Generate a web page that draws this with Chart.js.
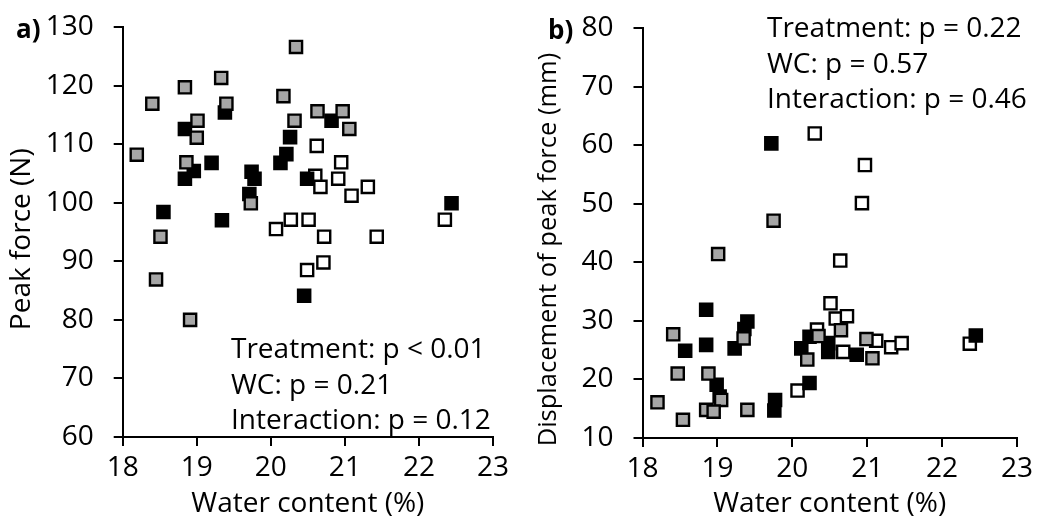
<!DOCTYPE html>
<html><head><meta charset="utf-8">
<script src="https://cdn.jsdelivr.net/npm/chart.js@4"></script>
<style>
html,body{margin:0;padding:0;background:#fff;width:1038px;height:524px;overflow:hidden}
#ca{position:absolute;left:0;top:0}
#cb{position:absolute;left:519px;top:0}
</style></head><body>
<canvas id="ca" width="519" height="524"></canvas>
<canvas id="cb" width="519" height="524"></canvas>
<script>
// ---- data ----
const xTickLabels = ['18','19','20','21','22','23'];
const yTicksA = [60,70,80,90,100,110,120,130];
const yTicksB = [10,20,30,40,50,60,70,80];

// Panel a: Peak force (N)
const grayA_x  = [18.19,18.40,18.45,18.51,18.84,18.86,18.91,19.01,19.00,19.33,19.40,19.73,20.17,20.34,20.32,20.63,20.97,21.06];
const grayA_y  = [108.2,116.9,86.9,94.2,119.7,106.9,80.0,114.0,111.1,121.3,116.9,99.9,118.2,126.6,114.0,115.6,115.6,112.6];
const blackA_x = [18.55,18.84,18.84,18.96,19.20,19.34,19.38,19.71,19.74,19.78,20.13,20.21,20.26,20.45,20.49,20.82,22.44];
const blackA_y = [98.4,112.6,104.1,105.4,106.8,97.0,115.4,101.5,105.3,104.1,106.8,108.3,111.2,84.1,104.1,114.0,99.9];
const whiteA_x = [20.07,20.27,20.51,20.49,20.62,20.60,20.67,20.71,20.72,20.91,20.95,21.09,21.31,21.43,22.35];
const whiteA_y = [95.5,97.1,97.1,88.5,109.7,104.6,102.7,89.8,94.2,104.1,106.9,101.2,102.7,94.2,97.1];

// Panel b: Displacement of peak force (mm)
const grayB_x  = [18.41,19.35,18.47,18.88,19.05,18.20,18.85,18.95,19.40,18.54,19.75,19.01,20.65,20.35,20.20,20.99,21.07];
const grayB_y  = [27.7,27.0,21.0,21.0,16.5,16.1,14.8,14.5,14.8,13.1,47.1,41.4,28.4,27.4,23.4,26.9,23.6];
const blackB_x = [18.85,18.57,18.85,19.23,19.40,19.36,18.99,19.03,19.72,19.77,19.76,20.12,20.23,20.48,20.48,20.86,22.45,20.23];
const blackB_y = [31.9,24.9,25.9,25.3,29.9,28.6,19.1,17.1,60.3,16.5,14.7,25.3,27.3,26.2,24.7,24.2,27.5,19.4];
const whiteB_x = [20.30,20.97,20.93,20.64,20.51,20.58,20.73,20.33,20.68,21.12,21.32,21.46,20.07,22.37];
const whiteB_y = [62.0,56.6,50.1,40.3,33.0,30.4,30.8,28.5,24.7,26.6,25.5,26.2,18.1,26.1];

const notesA = ['Treatment: p < 0.01','WC: p = 0.21','Interaction: p = 0.12'];
const notesB = ['Treatment: p = 0.22','WC: p = 0.57','Interaction: p = 0.46'];

// ---- helpers ----
const FONT = "'Open Sans', 'Noto Sans', sans-serif";
const NB = '\u00A0';
function pts(xs, ys){ return xs.map((x,i)=>({x:x, y:ys[i]})); }
function ds(xs, ys, fill){
  return {data: pts(xs,ys), pointStyle:'rect', pointRadius:8.6, pointHoverRadius:8.6,
          backgroundColor:fill, borderColor:'#000', borderWidth:2.4, showLine:false};
}
const notePlugin = {
  id:'notes',
  afterDraw(chart, args, o){
    const ctx = chart.ctx; ctx.save();
    // y-axis tick marks (outside, 9px) at the scale's own tick positions
    const ys = chart.scales.y, L = chart.chartArea.left;
    ctx.strokeStyle = '#000'; ctx.lineWidth = 2;
    ys.ticks.forEach(t=>{
      const p = Math.round(ys.getPixelForValue(t.value));
      ctx.beginPath(); ctx.moveTo(L-9, p); ctx.lineTo(L, p); ctx.stroke();
    });
    ctx.fillStyle = '#000';
    ctx.textBaseline = 'alphabetic'; ctx.textAlign = 'left';
    ctx.font = "bold 26px " + FONT;
    ctx.fillText(o.label, o.labelX, o.labelY);
    ctx.font = "28px " + FONT;
    o.lines.forEach((t,i)=> ctx.fillText(t, o.noteX, o.baselines[i]));
    ctx.restore();
  }
};
function makeChart(id, datasets, yTicks, yTitle, cfg){
  const tickSet = (vals)=> (scale)=>{ scale.ticks = vals.map(v=>({value:v})); };
  return new Chart(document.getElementById(id), {
    type:'scatter',
    data:{datasets},
    plugins:[notePlugin],
    options:{
      responsive:false, animation:false, devicePixelRatio:1,
      events:[],
      layout:{autoPadding:false, padding:{left:0, top:cfg.top, right:cfg.right, bottom:0}},
      plugins:{legend:{display:false}, tooltip:{enabled:false},
        notes:cfg.notes},
      scales:{
        x:{type:'linear', min:18, max:23,
           afterBuildTicks: tickSet(xTickLabels.map(Number)),
           afterFit:(s)=>{ s.height = cfg.xh; },
           border:{display:true, color:'#000', width:2},
           grid:{drawOnChartArea:false, drawTicks:true, tickLength:9, color:'#000', lineWidth:2},
           ticks:{color:'#000', padding:5, font:{family:FONT, size:28}, maxRotation:0, autoSkip:false},
           title:{display:true, text:'Water content (%)', color:'#000', font:{family:FONT, size:28}, padding:{top:0,bottom:3}}
        },
        y:{type:'linear', min:yTicks[0], max:yTicks[yTicks.length-1],
           afterBuildTicks: tickSet(yTicks),
           afterFit:(s)=>{ s.width = cfg.yw; },
           border:{display:true, color:'#000', width:2},
           grid:{drawOnChartArea:false, drawTicks:true, tickLength:26, color:'rgba(0,0,0,0)', tickColor:'rgba(0,0,0,0)', lineWidth:2},
           ticks:{color:'#000', padding:3, font:{family:FONT, size:28}, autoSkip:false},
           title:{display:true, text:yTitle, color:'#000', font:{family:FONT, size:cfg.ytf}, padding:{top:cfg.ytp,bottom:0}}
        }
      }
    }
  });
}
makeChart('ca', [ds(grayA_x,grayA_y,'#a6a6a6'), ds(blackA_x,blackA_y,'#000'), ds(whiteA_x,whiteA_y,'#fff')],
  yTicksA, 'Peak force (N)' + NB + NB,
  {top:27, right:26, xh:87, yw:122.7, ytp:5, ytf:28,
   notes:{label:'a)', labelX:16, labelY:38, lines:notesA, noteX:231, baselines:[358,393.5,429]}});
makeChart('cb', [ds(grayB_x,grayB_y,'#a6a6a6'), ds(blackB_x,blackB_y,'#000'), ds(whiteB_x,whiteB_y,'#fff')],
  yTicksB, 'Displacement of peak force (mm)' + NB + NB + NB + NB + NB,
  {top:28, right:18, xh:86, yw:123.5, ytp:14, ytf:25.5,
   notes:{label:'b)', labelX:29, labelY:39, lines:notesB, noteX:248, baselines:[36.5,72.5,108]}});
</script>
</body></html>
